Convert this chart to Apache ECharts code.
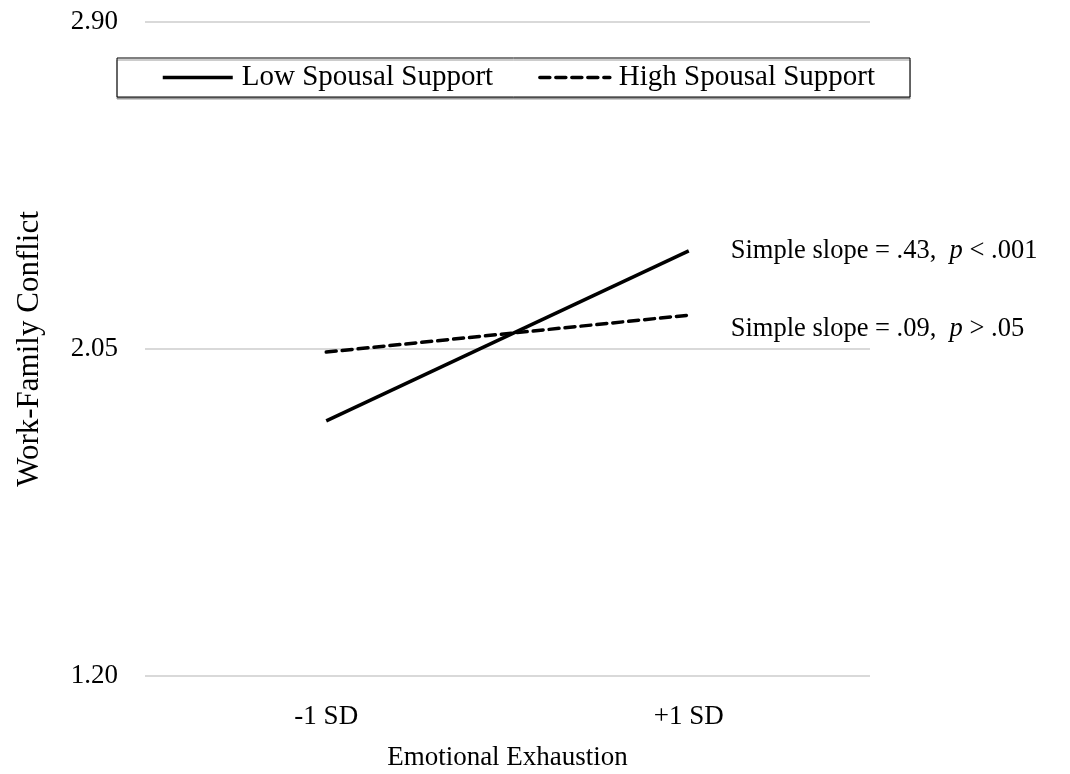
<!DOCTYPE html>
<html>
<head>
<meta charset="utf-8">
<script src="https://cdn.jsdelivr.net/npm/echarts@6/dist/echarts.min.js"></script>
<style>
  html, body { margin: 0; padding: 0; background: #fff; }
  #chart { width: 1070px; height: 774px; }
</style>
</head>
<body>
<div id="chart"></div>
<script>
var chart = echarts.init(document.getElementById('chart'));

// data
var categories = ['-1 SD', '+1 SD'];
var lowSupport = [1.863, 2.305];
var highSupport = [2.042, 2.138];
var yTicks = [1.20, 2.05, 2.90];
var seriesNames = ['Low Spousal Support', 'High Spousal Support'];
var slopeNotes = [['.43', '< .001'], ['.09', '> .05']];

var font = '"Liberation Serif", "Times New Roman", serif';

function slopeLabel(note) {
    return '{a|Simple slope = ' + note[0] + ',  }{i|p}{a| ' + note[1] + '}';
}
var labelRich = {
    a: { fontFamily: font, fontSize: 26.5, color: '#000' },
    i: { fontFamily: font, fontSize: 26.5, color: '#000', fontStyle: 'italic' }
};

var option = {
    backgroundColor: '#fff',
    textStyle: { fontFamily: font, color: '#000' },
    grid: { left: 145, right: 200, top: 22, bottom: 98, outerBoundsMode: 'none' },
    legend: {
        data: seriesNames,
        left: 117,
        top: 58,
        padding: [5, 35, 5, 44],
        itemGap: 45,
        itemWidth: 70,
        itemHeight: 2,
        borderColor: '#000',
        borderWidth: 1,
        backgroundColor: '#fff',
        shadowColor: '#999',
        shadowOffsetY: 2,
        shadowBlur: 0,
        itemStyle: { opacity: 0 },
        lineStyle: { width: 3.5 },
        textStyle: { fontFamily: font, fontSize: 29, color: '#000', padding: [0, 0, 0, 4] }
    },
    xAxis: {
        type: 'category',
        data: categories,
        name: 'Emotional Exhaustion',
        nameLocation: 'middle',
        nameGap: 68,
        nameTextStyle: { fontFamily: font, fontSize: 27, color: '#000' },
        axisLine: { show: false },
        axisTick: { show: false },
        axisLabel: { fontFamily: font, fontSize: 27, color: '#000', margin: 27 }
    },
    yAxis: {
        type: 'value',
        min: 1.2,
        max: 2.9,
        name: 'Work-Family Conflict',
        nameLocation: 'middle',
        nameGap: 100,
        nameTextStyle: { fontFamily: font, fontSize: 31, color: '#000' },
        axisLine: { show: false },
        axisTick: { show: false, customValues: yTicks },
        axisLabel: {
            customValues: yTicks,
            fontFamily: font, fontSize: 27, color: '#000', margin: 27,
            formatter: function (v) { return v.toFixed(2); }
        },
        splitLine: { show: true, lineStyle: { color: '#d9d9d9', width: 2 } }
    },
    series: [
        {
            name: seriesNames[0],
            type: 'line',
            data: lowSupport,
            symbol: 'none',
            lineStyle: { color: '#000', width: 3.5 },
            itemStyle: { color: '#000' },
            endLabel: {
                show: true,
                formatter: slopeLabel(slopeNotes[0]),
                rich: labelRich,
                distance: 42,
                offset: [0, 0]
            }
        },
        {
            name: seriesNames[1],
            type: 'line',
            data: highSupport,
            symbol: 'none',
            lineStyle: { color: '#000', width: 3.5, type: [10, 6], cap: 'round' },
            itemStyle: { color: '#000' },
            endLabel: {
                show: true,
                formatter: slopeLabel(slopeNotes[1]),
                rich: labelRich,
                distance: 42,
                offset: [0, 14]
            }
        }
    ]
};

chart.setOption(option);
</script>
</body>
</html>
